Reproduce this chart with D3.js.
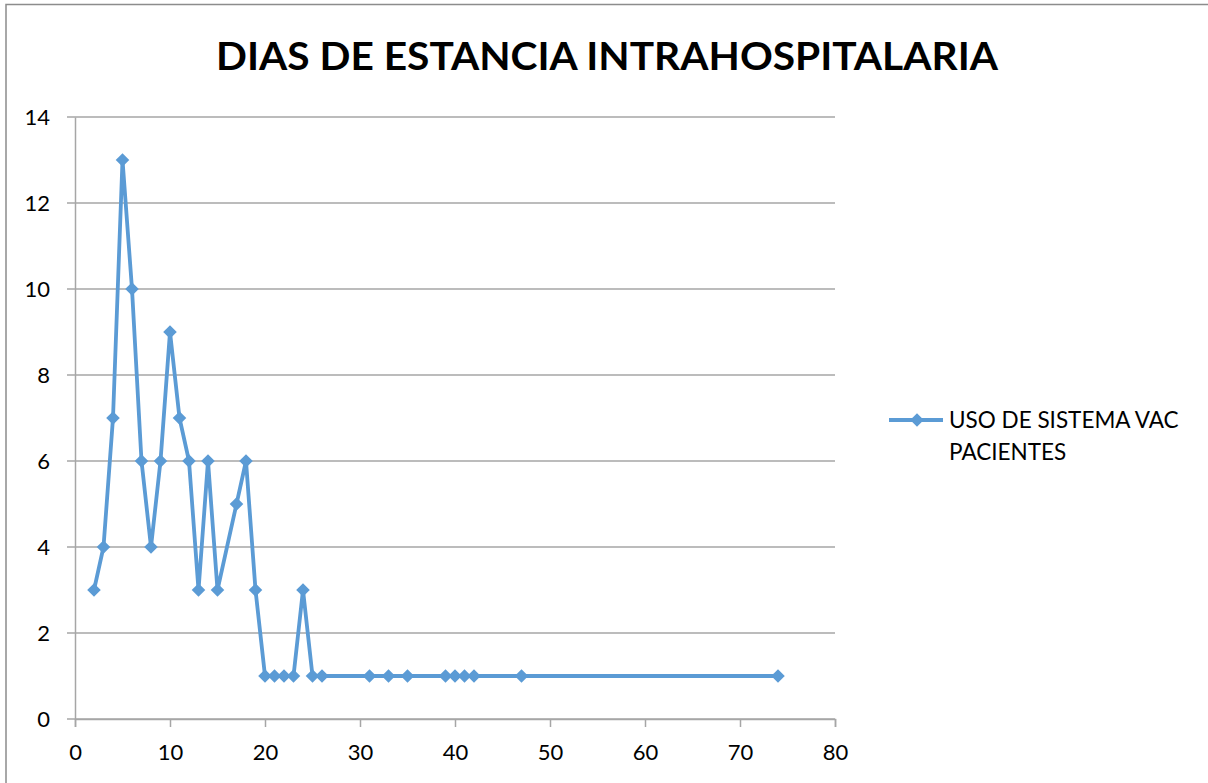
<!DOCTYPE html>
<html>
<head>
<meta charset="utf-8">
<script src="https://cdn.jsdelivr.net/npm/d3@7"></script>
<style>
  html, body { margin: 0; padding: 0; background: #fff; }
  svg { display: block; font-family: Lato, "Open Sans", sans-serif; }
</style>
</head>
<body>
<svg id="chart" width="1208" height="783"></svg>
<script>
const title = "DIAS DE ESTANCIA INTRAHOSPITALARIA";
const seriesName = ["USO DE SISTEMA VAC", "PACIENTES"];
const days = [2, 3, 4, 5, 6, 7, 8, 9, 10, 11, 12, 13, 14, 15, 17, 18, 19, 20, 21, 22, 23, 24, 25, 26, 31, 33, 35, 39, 40, 41, 42, 47, 74];
const patients = [3, 4, 7, 13, 10, 6, 4, 6, 9, 7, 6, 3, 6, 3, 5, 6, 3, 1, 1, 1, 1, 3, 1, 1, 1, 1, 1, 1, 1, 1, 1, 1, 1];
const xTicks = [0, 10, 20, 30, 40, 50, 60, 70, 80];
const yTicks = [0, 2, 4, 6, 8, 10, 12, 14];

const svg = d3.select("#chart");
const color = "#5b9bd5";
const gridColor = "#a6a6a6";

// frame
svg.append("rect").attr("x", 6).attr("y", 4.5).attr("width", 1210).attr("height", 790)
  .attr("fill", "none").attr("stroke", "#8c8c8c").attr("stroke-width", 1.5);

const x = d3.scaleLinear().domain([0, 80]).range([75, 835]);
const y = d3.scaleLinear().domain([0, 14]).range([719, 117]);

// gridlines
svg.append("g").selectAll("line").data(yTicks).join("line")
  .attr("x1", 67).attr("x2", x(80))
  .attr("y1", d => y(d)).attr("y2", d => y(d))
  .attr("stroke", gridColor).attr("stroke-width", 1.5);

// y axis
const yAxis = svg.append("g").attr("transform", `translate(${x(0)},0)`)
  .call(d3.axisLeft(y).tickValues(yTicks).tickSize(0).tickPadding(25).tickFormat(d3.format("d")));
yAxis.select(".domain").attr("stroke", gridColor).attr("stroke-width", 1.5);
yAxis.selectAll("text").attr("font-size", 22).attr("fill", "#000").attr("font-family", "Lato");

// x axis
const xAxis = svg.append("g").attr("transform", `translate(0,${y(0)})`)
  .call(d3.axisBottom(x).tickValues(xTicks).tickSize(8).tickPadding(17).tickFormat(d3.format("d")));
xAxis.select(".domain").attr("stroke", gridColor).attr("stroke-width", 1.5);
xAxis.selectAll(".tick line").attr("stroke", gridColor).attr("stroke-width", 1.5);
xAxis.selectAll("text").attr("font-size", 22).attr("fill", "#000").attr("font-family", "Lato");

// series
const pts = days.map((d, i) => [d, patients[i]]);
svg.append("path").datum(pts)
  .attr("fill", "none").attr("stroke", color).attr("stroke-width", 3.8)
  .attr("stroke-linejoin", "round")
  .attr("d", d3.line().x(d => x(d[0])).y(d => y(d[1])));

const diamond = d3.symbol().type(d3.symbolSquare).size(92);
svg.append("g").selectAll("path").data(pts).join("path")
  .attr("transform", d => `translate(${x(d[0])},${y(d[1])}) rotate(45)`)
  .attr("d", diamond).attr("fill", color);

// title
const t = svg.append("text").attr("x", 607).attr("y", 70).attr("text-anchor", "middle")
  .attr("font-size", 39).attr("font-weight", "bold").attr("font-family", "Lato").attr("fill", "#000")
  .text(title);
const tw = t.node().getComputedTextLength();
if (Math.abs(tw - 782) > 8) t.attr("textLength", 782).attr("lengthAdjust", "spacingAndGlyphs");

// legend
const lg = svg.append("g");
lg.append("line").attr("x1", 889).attr("x2", 943).attr("y1", 420).attr("y2", 420)
  .attr("stroke", color).attr("stroke-width", 3.8);
lg.append("path").attr("transform", "translate(917,420) rotate(45)").attr("d", diamond).attr("fill", color);
lg.selectAll("text").data(seriesName).join("text")
  .attr("x", 949).attr("y", (d, i) => 428 + i * 32)
  .attr("font-size", 22.5).attr("font-family", "Lato").attr("fill", "#000")
  .text(d => d);
</script>
</body>
</html>
